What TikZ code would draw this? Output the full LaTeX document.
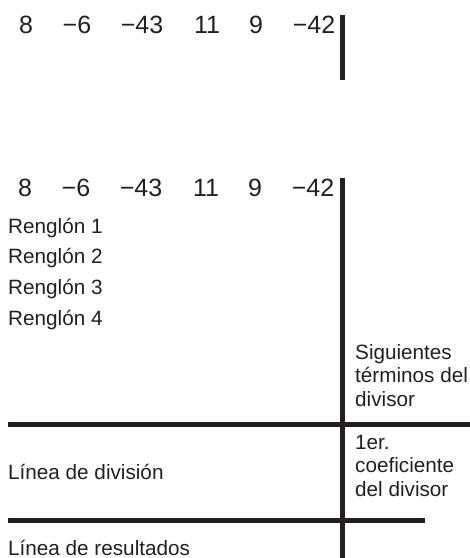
\documentclass[tikz,border=0pt]{standalone}
\usepackage{fontspec}
\setmainfont{Liberation Sans}
\usetikzlibrary{positioning}
\definecolor{ink}{RGB}{35,31,32}

\begin{document}
\begin{tikzpicture}[x=1pt,y=-1pt,
  coef/.style={anchor=base, inner sep=0pt, font=\fontsize{25}{29}\selectfont, text=ink},
  rowtext/.style={anchor=base west, inner sep=0pt, font=\fontsize{20.7}{23.5}\selectfont, text=ink},
  sidetext/.style={anchor=north west, inner sep=0pt, align=left, font=\fontsize{20.7}{23.5}\selectfont, text=ink},
  divline/.style={line width=5pt, draw=ink}]
\useasboundingbox (0,0) rectangle (470,558);

% Dividend coefficients only
\node[coef] (topa) at (26,33) {8};
\node[coef] (topb) at (77,33) {−6};
\node[coef] (topc) at (142,33) {−43};
\node[coef] (topd) at (207,33) {11};
\node[coef] (tope) at (256,33) {9};
\node[coef] (topf) at (314,33) {−42};
\coordinate (topbarup) at (342.5,15);
\coordinate (topbardown) at (342.5,80);
\draw[divline] (topbarup) -- (topbardown);

% Full scheme with its rows
\node[coef] (coefa) at (25,196) {8};
\node[coef] (coefb) at (76,196) {−6};
\node[coef] (coefc) at (141,196) {−43};
\node[coef] (coefd) at (206,196) {11};
\node[coef] (coefe) at (255,196) {9};
\node[coef] (coeff) at (313,196) {−42};

\node[rowtext] (rowa) at (8,233) {Renglón 1};
\node[rowtext] (rowb) at (8,263) {Renglón 2};
\node[rowtext] (rowc) at (8,294) {Renglón 3};
\node[rowtext] (rowd) at (8,325) {Renglón 4};

\node[sidetext] (nextterms) at (355,344) {Siguientes\\términos del\\divisor};
\node[sidetext] (firstcoef) at (355,435) {1er.\\coeficiente\\del divisor};

\node[rowtext] (divlabel) at (8,479) {Línea de división};
\node[rowtext] (reslabel) at (8,555) {Línea de resultados};

% Division lines
\coordinate (barup) at (342.5,178);
\coordinate (bardown) at (342.5,558);
\coordinate (divleft) at (8,424.5);
\coordinate (divright) at (470,424.5);
\coordinate (resleft) at (8,520.5);
\coordinate (resright) at (425,520.5);
\draw[divline] (barup) -- (bardown);
\draw[divline] (divleft) -- (divright);
\draw[divline] (resleft) -- (resright);

\end{tikzpicture}
\end{document}
